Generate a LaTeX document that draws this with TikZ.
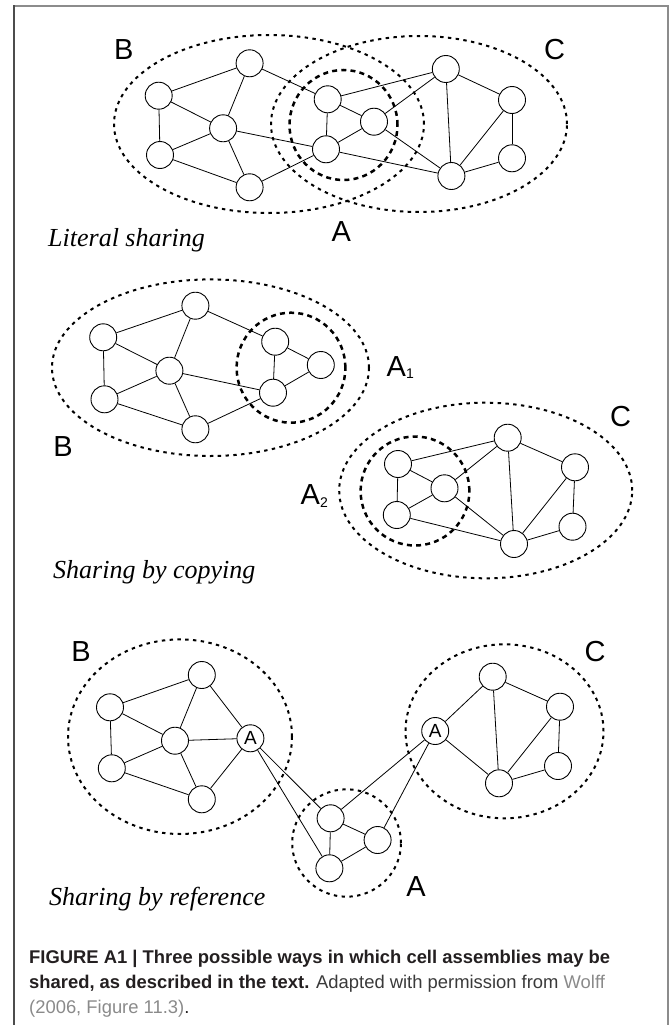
\documentclass[tikz,border=0pt]{standalone}
\usepackage{fontspec}
\setmainfont{Liberation Serif}
\setsansfont{Liberation Sans}
\definecolor{capblack}{HTML}{231F20}
\definecolor{capgray}{HTML}{3A3A3A}
\definecolor{linkgray}{HTML}{8A8A8A}
\begin{document}
\begin{tikzpicture}[x=1pt,y=-1pt,
  cell/.style={circle,draw,line width=0.9pt,minimum size=27pt,inner sep=0pt,fill=white,font=\sffamily\fontsize{19}{19}\selectfont},
  link/.style={line width=0.8pt},
  outerdash/.style={line width=2pt,dash pattern=on 3.4pt off 4.4pt},
  innerdash/.style={line width=2.5pt,dash pattern=on 5pt off 4.2pt},
  letter/.style={font=\sffamily\fontsize{29}{29}\selectfont,inner sep=0pt},
  ptitle/.style={font=\itshape\fontsize{26}{26}\selectfont,anchor=base west,inner sep=0pt},
  capline/.style={anchor=base west,inner sep=0pt,font=\sffamily\fontsize{18.4}{18.4}\selectfont}
]
\useasboundingbox (0,0) rectangle (669,1025);
% frame
\draw[line width=1.2pt,color=black!45] (14,6) -- (668,6) -- (668,1025);
\draw[line width=1.5pt,color=black!70] (14,5.4) -- (14,1025);

% ================= Panel 1: literal sharing
\draw[outerdash] (269,124) ellipse [x radius=155pt, y radius=89pt];
\draw[outerdash] (419,124) ellipse [x radius=148pt, y radius=88pt];
\draw[innerdash] (343.5,125) ellipse [x radius=54pt, y radius=55pt];
\node[cell] (n1) at (249.6,63.3) {};
\node[cell] (n2) at (158.7,95.7) {};
\node[cell] (n3) at (223.1,128.3) {};
\node[cell] (n4) at (160,155) {};
\node[cell] (n5) at (249.6,187.3) {};
\node[cell] (n6) at (327.7,99.3) {};
\node[cell] (n7) at (374,121.7) {};
\node[cell] (n8) at (326,149.3) {};
\node[cell] (n9) at (445.8,69) {};
\node[cell] (n10) at (512,100) {};
\node[cell] (n11) at (512,158.3) {};
\node[cell] (n12) at (451.4,176) {};
\foreach \a/\b in {n2/n1,n1/n3,n2/n3,n2/n4,n3/n4,n4/n5,n3/n5,n1/n6,n3/n8,n5/n8,n6/n7,n6/n8,n7/n8,n6/n9,n7/n9,n7/n12,n8/n12,n9/n12,n9/n10,n10/n12,n10/n11,n11/n12}
  \draw[link] (\a) -- (\b);
\node[letter] (lb1) at (123.7,50) {B};
\node[letter] (lc1) at (554.6,50) {C};
\node[letter] (la1) at (341.3,231.7) {A};
\node[ptitle] (t1) at (48,246.5) {Literal sharing};

% ================= Panel 2: sharing by copying
\draw[outerdash] (210.5,367.7) ellipse [x radius=158.5pt, y radius=88.3pt];
\draw[innerdash] (291,367.7) ellipse [x radius=54.4pt, y radius=55pt];
\node[cell] (m1) at (195.4,305.7) {};
\node[cell] (m2) at (103.2,337.3) {};
\node[cell] (m3) at (169.4,370.7) {};
\node[cell] (m4) at (104.5,399.3) {};
\node[cell] (m5) at (195.4,429.3) {};
\node[cell] (m6) at (275.2,341.7) {};
\node[cell] (m7) at (320.8,365) {};
\node[cell] (m8) at (273,392.7) {};
\foreach \a/\b in {m2/m1,m1/m3,m2/m3,m2/m4,m3/m4,m4/m5,m3/m5,m1/m6,m3/m8,m5/m8,m6/m7,m6/m8,m7/m8}
  \draw[link] (\a) -- (\b);

\draw[outerdash] (485.7,490.5) ellipse [x radius=146.5pt, y radius=87.8pt];
\draw[innerdash] (415,491) ellipse [x radius=54.4pt, y radius=54.5pt];
\node[cell] (c1) at (398,464) {};
\node[cell] (c2) at (444.5,488.3) {};
\node[cell] (c3) at (396.8,515) {};
\node[cell] (c4) at (507.7,437.7) {};
\node[cell] (c5) at (575,467.3) {};
\node[cell] (c6) at (572.5,526.7) {};
\node[cell] (c7) at (514,544) {};
\foreach \a/\b in {c1/c2,c1/c3,c2/c3,c1/c4,c2/c4,c2/c7,c3/c7,c4/c7,c4/c5,c5/c7,c5/c6,c6/c7}
  \draw[link] (\a) -- (\b);
\node[letter,anchor=base west] (la2) at (386.5,376.7) {A\fontsize{14}{14}\selectfont\raisebox{-2pt}{1}};
\node[letter] (lb2) at (63,446.7) {B};
\node[letter] (lc2) at (620.7,416.7) {C};
\node[letter,anchor=base west] (la3) at (300.5,504) {A\fontsize{14}{14}\selectfont\raisebox{-3.5pt}{2}};
\node[ptitle] (t2) at (53,578) {Sharing by copying};

% ================= Panel 3: sharing by reference
\draw[outerdash] (180,736.7) ellipse [x radius=112pt, y radius=97.3pt];
\draw[outerdash] (504.5,731.3) ellipse [x radius=99pt, y radius=87pt];
\draw[outerdash] (346.6,843) ellipse [x radius=54.4pt, y radius=53.7pt];
\node[cell] (r1) at (201.8,675) {};
\node[cell] (r2) at (110,707.3) {};
\node[cell] (r3) at (175,740.7) {};
\node[cell] (r4) at (111.8,768.3) {};
\node[cell] (r5) at (201.8,799.3) {};
\node[cell] (rA) at (250.4,738.3) {A};
\node[cell] (s1) at (492.7,676.7) {};
\node[cell] (sA) at (435.2,731) {A};
\node[cell] (s2) at (560,706.7) {};
\node[cell] (s3) at (558,766) {};
\node[cell] (s4) at (499,783.3) {};
\node[cell] (u1) at (330.6,818.3) {};
\node[cell] (u2) at (377.6,840) {};
\node[cell] (u3) at (329.4,868.3) {};
\foreach \a/\b in {r2/r1,r1/r3,r2/r3,r2/r4,r3/r4,r4/r5,r3/r5,r1/rA,r3/rA,r5/rA,sA/s1,s1/s2,s1/s4,sA/s4,s2/s4,s2/s3,s3/s4,u1/u2,u1/u3,u2/u3,rA/u1,rA/u3,sA/u1,sA/u2}
  \draw[link] (\a) -- (\b);
\node[letter] (lb3) at (81,651.7) {B};
\node[letter] (lc3) at (595,651.7) {C};
\node[letter] (la4) at (416,887) {A};
\node[ptitle] (t3) at (49,905) {Sharing by reference};

% ================= caption
\node[capline] (cap1) at (29,963) {\color{capblack}\bfseries FIGURE A1 | Three possible ways in which cell assemblies may be};
\node[capline] (cap2) at (29,988) {{\color{capblack}\bfseries shared, as described in the text.} \color{capgray}Adapted with permission from \color{linkgray}Wolff};
\node[capline] (cap3) at (29,1013) {{\color{linkgray}(2006, Figure 11.3)}\color{capblack}.};
\end{tikzpicture}
\end{document}
